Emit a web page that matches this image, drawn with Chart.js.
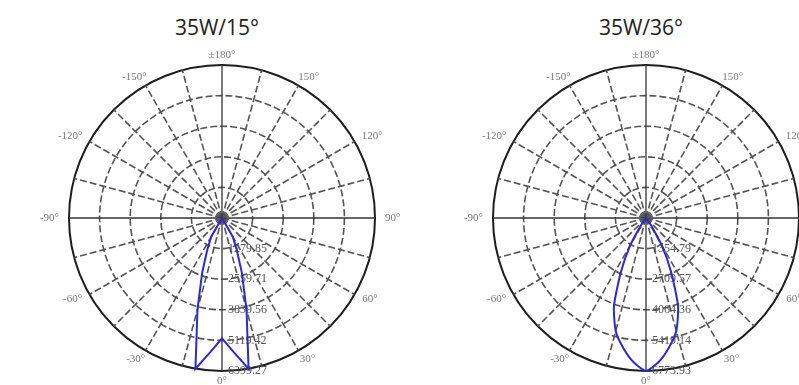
<!DOCTYPE html>
<html>
<head>
<meta charset="utf-8">
<script src="https://cdn.jsdelivr.net/npm/chart.js@4.4.1/dist/chart.umd.min.js"></script>
<style>
    html, body { margin: 0; padding: 0; width: 799px; height: 385px; overflow: hidden; background: #fff; }
    .title { position: absolute; top: 13px; width: 200px; text-align: center; font: 21px "Open Sans", sans-serif; line-height: 28px; color: #222; }
    canvas { position: absolute; top: 18px; }
</style>
</head>
<body>
<div class="title" style="left:117px">35W/15°</div>
<div class="title" style="left:541px">35W/36°</div>
<canvas id="chartLeft" width="400" height="400" style="left:22px"></canvas>
<canvas id="chartRight" width="400" height="400" style="left:446px"></canvas>
<script>
// góc C (độ), theo chiều kim đồng hồ từ đỉnh: 180 ở trên, 90 bên phải, 0 ở dưới
const angles = [180, 175, 170, 165, 160, 155, 150, 145, 140, 135, 130, 125,
    120, 115, 110, 105, 100, 95, 90, 85, 80, 75, 70, 65,
    60, 55, 50, 45, 40, 35, 30, 25, 20, 15, 10, 5,
    0, -5, -10, -15, -20, -25, -30, -35, -40, -45, -50, -55,
    -60, -65, -70, -75, -80, -85, -90, -95, -100, -105, -110, -115,
    -120, -125, -130, -135, -140, -145, -150, -155, -160, -165, -170, -175];

// cường độ sáng (cd) - 35W/15°
const intensity15 = [0, 0, 0, 0, 0, 0, 0, 0, 0, 0, 0, 0,
    0, 0, 0, 0, 0, 0, 0, 0, 0, 0, 0, 0,
    0, 0, 0, 0, 0, 0, 900, 1450, 2420, 3960, 6399, 5630,
    5030, 5630, 6399, 3960, 2420, 1450, 900, 0, 0, 0, 0, 0,
    0, 0, 0, 0, 0, 0, 0, 0, 0, 0, 0, 0,
    0, 0, 0, 0, 0, 0, 0, 0, 0, 0, 0, 0];

// cường độ sáng (cd) - 35W/36°
const intensity36 = [0, 0, 0, 0, 0, 0, 0, 0, 0, 0, 0, 0,
    0, 0, 0, 0, 0, 0, 0, 0, 0, 0, 0, 0,
    0, 0, 0, 0, 0, 400, 1400, 2620, 4150, 5180, 5830, 6400,
    6773.93, 6400, 5830, 5180, 4150, 2620, 1400, 400, 0, 0, 0, 0,
    0, 0, 0, 0, 0, 0, 0, 0, 0, 0, 0, 0,
    0, 0, 0, 0, 0, 0, 0, 0, 0, 0, 0, 0];

// các vòng tròn lưới
const rings15 = [1279.85, 2559.71, 3839.56, 5119.42, 6399.27];
const rings36 = [1354.79, 2709.57, 4064.36, 5419.14, 6773.93];

/**
 * Ghi nhãn vòng và nhãn góc
 */
const polarText = {
    id: 'polarText',
    beforeDatasetsDraw(chart, args, opts) {
        const s = chart.scales.r;
        const ctx = chart.ctx;
        ctx.save();
        ctx.font = '12px "Liberation Serif"';
        ctx.fillStyle = '#555';
        ctx.textAlign = 'left';
        ctx.textBaseline = 'middle';
        opts.rings.forEach(function(v) {
            ctx.fillText(v.toFixed(2), s.xCenter + 6, s.yCenter + s.getDistanceFromCenterForValue(v));
        });

        ctx.font = '11px "Liberation Serif"';
        ctx.fillStyle = '#777';
        ctx.textAlign = 'center';
        const dist = s.drawingArea + 10;
        chart.data.labels.forEach(function(a, i) {
            if (a % 30 !== 0) return;
            const txt = (a === 180 ? '±180' : a) + '°';
            const p = s.getPointPosition(i, dist);
            const w = ctx.measureText(txt).width;
            const dx = (p.x - s.xCenter) / dist * w / 2;
            ctx.fillText(txt, p.x + dx, p.y);
        });
        ctx.restore();
    }
};

function makeChart(id, data, rings, tension) {
    const last = rings.length;
    const ctx = document.getElementById(id).getContext('2d');
    return new Chart(ctx, {
        type: 'radar',
        data: {
            labels: angles,
            datasets: [{
                data: data,
                borderColor: '#2c2cca',
                borderWidth: 2,
                pointRadius: 0,
                fill: false,
                tension: tension
            }]
        },
        options: {
            responsive: false,
            animation: false,
            layout: { padding: 47 },
            plugins: {
                legend: { display: false },
                tooltip: { enabled: false },
                polarText: { rings: rings }
            },
            scales: {
                r: {
                    min: 0,
                    max: rings[rings.length - 1],
                    startAngle: 0,
                    afterBuildTicks: function(scale) {
                        scale.ticks = [0].concat(rings).map(function(v) { return { value: v }; });
                    },
                    ticks: { display: false },
                    pointLabels: { display: false },
                    grid: {
                        circular: true,
                        color: function(c) { return c.index === last ? '#1e1e1e' : '#555'; },
                        lineWidth: function(c) { return c.index === last ? 2 : 1.6; }
                    },
                    border: {
                        dash: function(c) { return c.index === last ? [] : [7, 3]; }
                    },
                    angleLines: {
                        color: function(c) { return c.index % 18 === 0 ? '#333' : '#555'; },
                        lineWidth: function(c) {
                            if (c.index % 3 !== 0) return 0;
                            return c.index % 18 === 0 ? 1.3 : 1.6;
                        },
                        borderDash: function(c) { return c.index % 18 === 0 ? [] : [7, 3]; }
                    }
                }
            }
        },
        plugins: [polarText]
    });
}

makeChart('chartLeft', intensity15, rings15, 0);
makeChart('chartRight', intensity36, rings36, 0.2);
</script>
</body>
</html>
